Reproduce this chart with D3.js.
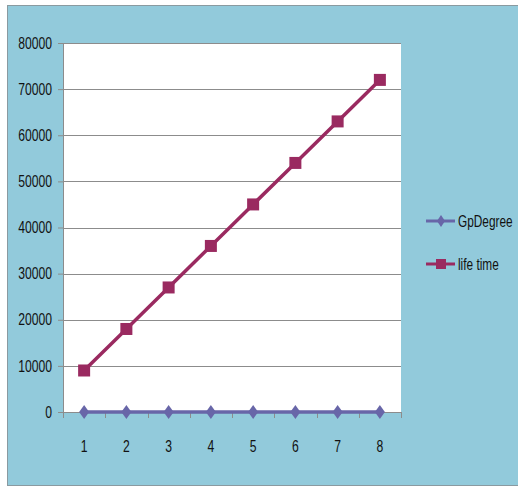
<!DOCTYPE html>
<html>
<head>
<meta charset="utf-8">
<script src="https://cdn.jsdelivr.net/npm/d3@7"></script>
<style>
  html, body { margin: 0; padding: 0; background: #ffffff; }
  svg { display: block; }
  text { font-family: "Liberation Sans", Arial, sans-serif; fill: #111; }
</style>
</head>
<body>
<svg id="chart" width="518" height="487"></svg>
<script>
// Categories along the x axis
const categories = ["1", "2", "3", "4", "5", "6", "7", "8"];
// Series values
const gpDegree = [1, 2, 3, 4, 5, 6, 7, 8];
const lifeTime = [9000, 18000, 27000, 36000, 45000, 54000, 63000, 72000];
// Y tick labels
const yTicks = [0, 10000, 20000, 30000, 40000, 50000, 60000, 70000, 80000];
const seriesNames = ["GpDegree", "life time"];

const svg = d3.select("#chart");
const W = 518, H = 487;
const FONT = 16;

// Narrow the glyphs horizontally for a condensed look (keeps the anchor point in place)
function condense(sel, k = 0.76) {
  sel.each(function () {
    const t = d3.select(this);
    const x0 = +(t.attr("x") || 0);
    t.attr("x", x0 / k).attr("transform", `scale(${k},1)`);
  });
}

// Chart background panel
svg.append("rect")
  .attr("x", 7.5).attr("y", 5.5)
  .attr("width", W - 7).attr("height", 480)
  .attr("fill", "#92CADB")
  .attr("stroke", "#8a9aa0").attr("stroke-width", 1);

const plot = { left: 63, top: 43, right: 401, bottom: 412 };

const x = d3.scaleBand().domain(categories).range([plot.left, plot.right]);
const y = d3.scaleLinear().domain([0, 80000]).range([plot.bottom, plot.top]);

// Plot area
svg.append("rect")
  .attr("x", plot.left).attr("y", plot.top)
  .attr("width", plot.right - plot.left).attr("height", plot.bottom - plot.top)
  .attr("fill", "#ffffff");

// Horizontal gridlines
svg.append("g").selectAll("line").data(yTicks.filter(d => d > 0)).join("line")
  .attr("x1", plot.left).attr("x2", plot.right)
  .attr("y1", d => Math.round(y(d)) + 0.5).attr("y2", d => Math.round(y(d)) + 0.5)
  .attr("stroke", "#8c8c8c").attr("stroke-width", 1);

// Y axis
const yAxis = svg.append("g")
  .attr("transform", `translate(${plot.left},0)`)
  .call(d3.axisLeft(y).tickValues(yTicks).tickFormat(d3.format("d")).tickSize(5).tickPadding(6));
yAxis.select(".domain").attr("stroke", "#8c8c8c");
yAxis.selectAll(".tick line").attr("stroke", "#8c8c8c");
yAxis.selectAll(".tick text")
  .attr("font-size", FONT).attr("fill", "#111")
  .style("font-family", "'Liberation Sans', Arial, sans-serif")
  .call(condense);

// X axis (ticks at category boundaries)
const xAxisG = svg.append("g").attr("transform", `translate(0,${plot.bottom})`);
xAxisG.append("line")
  .attr("x1", plot.left).attr("x2", plot.right)
  .attr("y1", 0.5).attr("y2", 0.5)
  .attr("stroke", "#8c8c8c");
const bounds = categories.map(c => x(c)).concat([plot.right]);
xAxisG.selectAll("line.tk").data(bounds).join("line").attr("class", "tk")
  .attr("x1", d => Math.round(d) + 0.5).attr("x2", d => Math.round(d) + 0.5)
  .attr("y1", 0).attr("y2", 6)
  .attr("stroke", "#8c8c8c");
xAxisG.selectAll("text").data(categories).join("text")
  .attr("x", d => x(d) + x.bandwidth() / 2)
  .attr("y", 40)
  .attr("text-anchor", "middle")
  .attr("font-size", FONT)
  .text(d => d)
  .call(condense);

const cx = d => x(d) + x.bandwidth() / 2;
const colors = { gp: "#6866A8", life: "#9A2A60" };

// GpDegree series
svg.append("path")
  .datum(gpDegree)
  .attr("fill", "none").attr("stroke", colors.gp).attr("stroke-width", 3.5)
  .attr("d", d3.line().x((d, i) => cx(categories[i])).y(d => y(d)));
const diamond = "M0,-7L5,0L0,7L-5,0Z";
svg.append("g").selectAll("path").data(gpDegree).join("path")
  .attr("transform", (d, i) => `translate(${cx(categories[i])},${y(d)})`)
  .attr("d", diamond).attr("fill", colors.gp);

// life time series
svg.append("path")
  .datum(lifeTime)
  .attr("fill", "none").attr("stroke", colors.life).attr("stroke-width", 3.5)
  .attr("d", d3.line().x((d, i) => cx(categories[i])).y(d => y(d)));
svg.append("g").selectAll("rect").data(lifeTime).join("rect")
  .attr("x", (d, i) => cx(categories[i]) - 6)
  .attr("y", d => y(d) - 6)
  .attr("width", 12).attr("height", 12)
  .attr("fill", colors.life);

// Legend
const legend = svg.append("g").attr("transform", "translate(426,221)");
seriesNames.forEach((name, i) => {
  const g = legend.append("g").attr("transform", `translate(0,${i * 43})`);
  const col = i === 0 ? colors.gp : colors.life;
  g.append("line").attr("x1", 0).attr("x2", 29).attr("y1", 0).attr("y2", 0)
    .attr("stroke", col).attr("stroke-width", 3);
  if (i === 0) {
    g.append("path").attr("transform", "translate(15,0)").attr("d", "M0,-6L4,0L0,6L-4,0Z").attr("fill", col);
  } else {
    g.append("rect").attr("x", 10).attr("y", -5).attr("width", 10).attr("height", 10).attr("fill", col);
  }
  g.append("text").attr("x", 32).attr("y", 6).attr("font-size", FONT).text(name).call(condense, 0.74);
});
</script>
</body>
</html>
